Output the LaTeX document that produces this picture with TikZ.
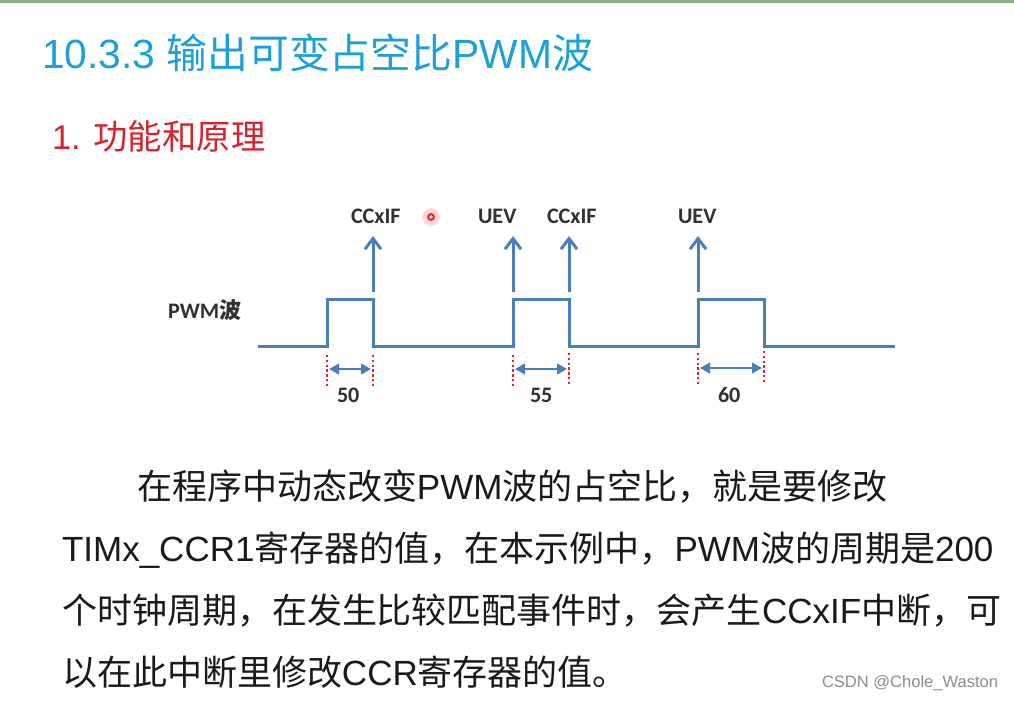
\documentclass[tikz,border=0pt]{standalone}
\usepackage{fontspec}
\setmainfont{Liberation Sans}
\newfontfamily\cjk{Noto Sans CJK SC}
\newfontfamily\carlito{Carlito}
\usetikzlibrary{arrows.meta}
\definecolor{wave}{HTML}{4A7EBB}
\definecolor{titlec}{HTML}{1AA0DC}
\definecolor{subc}{HTML}{D8222B}
\definecolor{dotred}{HTML}{E8202A}
\definecolor{bodyc}{HTML}{1A1A1A}
\definecolor{topline}{HTML}{86B486}
\tikzset{
  every node/.style={inner sep=0pt, outer sep=0pt, anchor=base west},
  titletext/.style={text=titlec, font=\fontsize{30.6pt}{34pt}\selectfont},
  subtext/.style={text=subc, font=\fontsize{25.8pt}{30pt}\selectfont},
  lbl/.style={text=bodyc!90, font=\fontsize{16.6pt}{19pt}\selectfont\carlito\bfseries},
  bodytext/.style={text=bodyc, font=\fontsize{26.25pt}{30pt}\selectfont},
  wm/.style={text=black!45, font=\fontsize{12.4pt}{14pt}\selectfont},
  wavel/.style={draw=wave, line width=2.25pt},
  evt/.style={draw=wave, line width=2.25pt, -{Straight Barb[length=8pt,width=12pt,line width=2.25pt]}},
  spanarrow/.style={draw=wave, line width=1.6pt, {Triangle[length=7.5pt,width=8pt]}-{Triangle[length=7.5pt,width=8pt]}},
  redmark/.style={draw=dotred, line width=2pt, dash pattern=on 1.8pt off 1.8pt},
}
\begin{document}
\begin{tikzpicture}[x=0.75pt, y=-0.75pt]
\useasboundingbox (0,0) rectangle (1014,700);
\fill[white] (0,0) rectangle (1014,700);
\fill[topline] (0,0) rectangle (1014,2.5);

% headings
\node[titletext] (t) at (42,68) {10.3.3 {\cjk 输出可变占空比}PWM{\cjk 波}};
\node[subtext] (s) at (52,149) {1. {\cjk 功能和原理}};

% wave coordinates
\coordinate (w0) at (258,346);
\coordinate (r1) at (327,346); \coordinate (f1) at (373,346);
\coordinate (r2) at (513,346); \coordinate (f2) at (569,346);
\coordinate (r3) at (698,346); \coordinate (f3) at (764,346);
\coordinate (w9) at (895,346);
\draw[wavel, line join=miter]
  (w0) -- (r1) -- ++(0,-47) -| (f1) -- (r2) -- ++(0,-47) -| (f2) -- (r3) -- ++(0,-47) -| (f3) -- (w9);

% event arrows
\coordinate (a1) at (373,236); \coordinate (a2) at (513,236);
\coordinate (a3) at (569,236); \coordinate (a4) at (698,236);
\draw[evt] (373,292) -- (a1);
\draw[evt] (513,292) -- (a2);
\draw[evt] (569,292) -- (a3);
\draw[evt] (698,292) -- (a4);

\node[lbl] (c1) at (351,223) {CCxIF};
\node[lbl] (u1) at (478,223) {UEV};
\node[lbl] (c2) at (547,223) {CCxIF};
\node[lbl] (u2) at (678,223) {UEV};
\node[lbl] (pw) at (168,318) {PWM{\cjk 波}};

% pointer dot
\fill[red!30, opacity=0.5] (431,217) circle (9);
\fill[red!20, opacity=0.6] (431,217) circle (6);
\draw[dotred, line width=1.5pt, fill=white] (431,217) circle (2.8);

% dotted markers
\draw[redmark] (r1) ++(0,9) -- ++(0,31);
\draw[redmark] (f1) ++(0,9) -- ++(0,31);
\draw[redmark] (r2) ++(0,9) -- ++(0,31);
\draw[redmark] (f2) ++(0,7) -- ++(0,31);
\draw[redmark] (r3) ++(0,7) -- ++(0,31);
\draw[redmark] (f3) ++(0,5) -- ++(0,31);

% spans
\coordinate (s1a) at (329,369); \coordinate (s1b) at (371,369);
\coordinate (s2a) at (515,369); \coordinate (s2b) at (567,369);
\coordinate (s3a) at (700,368); \coordinate (s3b) at (762,368);
\draw[spanarrow] (s1a) -- (s1b);
\draw[spanarrow] (s2a) -- (s2b);
\draw[spanarrow] (s3a) -- (s3b);
\node[lbl] (n1) at (337,402) {50};
\node[lbl] (n2) at (530,402) {55};
\node[lbl] (n3) at (718,402) {60};

% body
\node[bodytext] (b1) at (137,499) {{\cjk 在程序中动态改变}PWM{\cjk 波的占空比，就是要修改}};
\node[bodytext] (b2) at (62,561) {TIMx\_CCR1{\cjk 寄存器的值，在本示例中，}PWM{\cjk 波的周期是}200};
\node[bodytext] (b3) at (62,623) {{\cjk 个时钟周期，在发生比较匹配事件时，会产生}CCxIF{\cjk 中断，可}};
\node[bodytext] (b4) at (62,685) {{\cjk 以在此中断里修改}CCR{\cjk 寄存器的值。}};

\node[wm] (w) at (822,687) {CSDN @Chole\_Waston};
\end{tikzpicture}
\end{document}
